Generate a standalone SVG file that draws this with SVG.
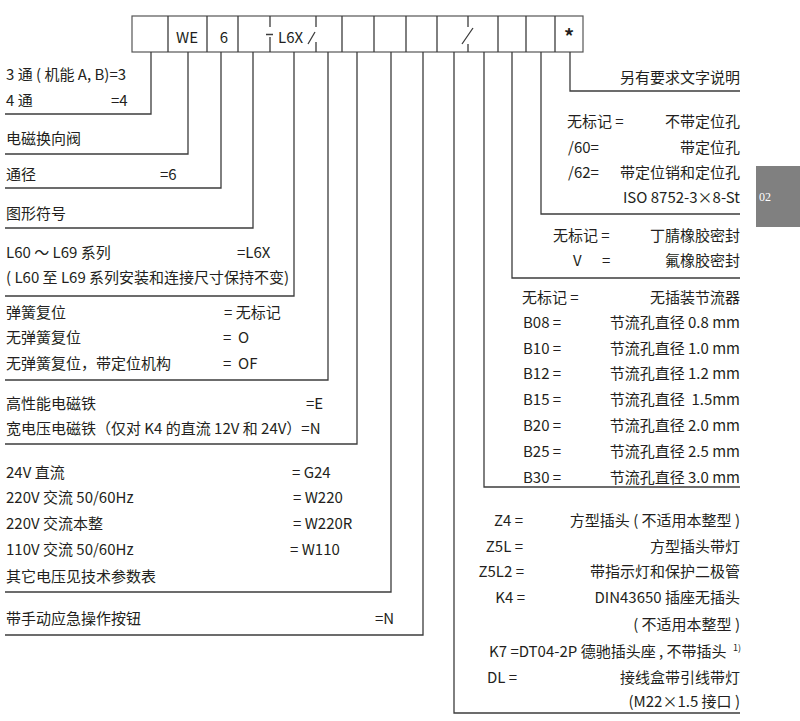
<svg xmlns="http://www.w3.org/2000/svg" width="800" height="721" viewBox="0 0 800 721">
<style>
text{font-family:"Noto Sans CJK SC","Noto Sans",sans-serif;font-size:15px;fill:#231f20}
.e{text-anchor:end}
.ln{stroke:#3c3c3c;stroke-width:1.3;fill:none}
.bx{stroke:#555;stroke-width:1.2;fill:#fff}
.tab{font-family:"Liberation Serif",serif;font-size:12px;fill:#fff}
</style>
<rect width="800" height="721" fill="#fff"/>
<g id="header">
<rect class="bx" x="132" y="16" width="451" height="36"/>
<path class="ln" d="M168 16V52M207 16V52M238 16V52M342 16V52M374 16V52M406 16V52M437 16V52M498 16V52M526 16V52M555 16V52"/>
<path class="ln" d="M270 16V27M266 34.5H273M270 37V52M316 16V27M316 42V52M308 44L315 32M468 16V27M468 44V52M462 44L473 28"/>
<text x="187" y="43" text-anchor="middle">WE</text>
<text x="224" y="43" text-anchor="middle">6</text>
<text x="278" y="43">L6X</text>
<text x="569" y="44" text-anchor="middle" style="font-size:20px;font-weight:bold">*</text>
</g>
<g id="connectors">
<path class="ln" d="M151 52V114H5M188 52V154H5M221 52V188H5M253 52V228H5M294 52V296H5M328 52V380H5M357 52V444H5M391 52V592H5M423 52V635H5"/>
<path class="ln" d="M454 52V713H740M484 52V487H740M512 52V278H740M541 52V214H740M570 52V91H740"/>
</g>
<g id="n-ways">
<text x="6" y="80">3 通 ( 机能 A, B)=3</text>
<text x="6" y="106">4 通</text><text x="111" y="106">=4</text>
</g>
<g id="n-valve"><text x="6" y="144">电磁换向阀</text></g>
<g id="n-size"><text x="6" y="180">通径</text><text x="160" y="180">=6</text></g>
<g id="n-symbol"><text x="6" y="219">图形符号</text></g>
<g id="n-series">
<text x="6" y="258">L60 ～ L69 系列</text><text x="237" y="258">=L6X</text>
<text x="6" y="283">( L60 至 L69 系列安装和连接尺寸保持不变)</text>
</g>
<g id="n-spring">
<text x="6" y="318">弹簧复位</text><text x="224" y="318">= 无标记</text>
<text x="6" y="343">无弹簧复位</text><text x="223" y="343" xml:space="preserve">=  O</text>
<text x="6" y="369">无弹簧复位，带定位机构</text><text x="223" y="369" xml:space="preserve">=  OF</text>
</g>
<g id="n-magnet">
<text x="6" y="409">高性能电磁铁</text><text x="306" y="409">=E</text>
<text x="6" y="434">宽电压电磁铁（仅对 K4 的直流 12V 和 24V）=N</text>
</g>
<g id="n-voltage">
<text x="6" y="478">24V 直流</text><text x="292" y="478">= G24</text>
<text x="6" y="503">220V 交流 50/60Hz</text><text x="293" y="503">= W220</text>
<text x="6" y="529">220V 交流本整</text><text x="293" y="529">= W220R</text>
<text x="6" y="555">110V 交流 50/60Hz</text><text x="290" y="555">= W110</text>
<text x="6" y="582">其它电压见技术参数表</text>
</g>
<g id="n-manual"><text x="6" y="624">带手动应急操作按钮</text><text x="375" y="624">=N</text></g>
<g id="n-connector">
<text class="e" x="523" y="526">Z4 =</text><text class="e" x="740" y="526">方型插头 ( 不适用本整型 )</text>
<text class="e" x="523" y="552">Z5L =</text><text class="e" x="740" y="552">方型插头带灯</text>
<text class="e" x="524" y="577">Z5L2 =</text><text class="e" x="740" y="577">带指示灯和保护二极管</text>
<text class="e" x="525" y="603">K4 =</text><text class="e" x="740" y="603">DIN43650 插座无插头</text>
<text class="e" x="740" y="630">( 不适用本整型 )</text>
<text x="489" y="657">K7 =DT04-2P 德驰插头座 , 不带插头</text><text x="733" y="651" style="font-size:9px">1)</text>
<text x="487" y="683">DL =</text><text class="e" x="740" y="683">接线盒带引线带灯</text>
<text class="e" x="740" y="707">(M22×1.5 接口 )</text>
</g>
<g id="n-throttle">
<text x="522" y="303">无标记 =</text><text class="e" x="740" y="303">无插装节流器</text>
<text x="523" y="328">B08 =</text><text class="e" x="740" y="328">节流孔直径 0.8 mm</text>
<text x="523" y="354">B10 =</text><text class="e" x="740" y="354">节流孔直径 1.0 mm</text>
<text x="523" y="379">B12 =</text><text class="e" x="740" y="379">节流孔直径 1.2 mm</text>
<text x="523" y="405">B15 =</text><text class="e" x="740" y="405" xml:space="preserve">节流孔直径  1.5mm</text>
<text x="523" y="431">B20 =</text><text class="e" x="740" y="431">节流孔直径 2.0 mm</text>
<text x="523" y="457">B25 =</text><text class="e" x="740" y="457">节流孔直径 2.5 mm</text>
<text x="523" y="483">B30 =</text><text class="e" x="740" y="483">节流孔直径 3.0 mm</text>
</g>
<g id="n-seal">
<text x="553" y="241">无标记 =</text><text class="e" x="740" y="241">丁腈橡胶密封</text>
<text x="573" y="266">V</text><text x="602" y="266">=</text><text class="e" x="740" y="266">氟橡胶密封</text>
</g>
<g id="n-pin">
<text x="567" y="127">无标记 =</text><text class="e" x="740" y="127">不带定位孔</text>
<text x="568" y="153">/60=</text><text class="e" x="740" y="153">带定位孔</text>
<text x="568" y="178">/62=</text><text class="e" x="740" y="178">带定位销和定位孔</text>
<text class="e" x="740" y="203">ISO 8752-3×8-St</text>
</g>
<g id="n-other"><text class="e" x="740" y="83">另有要求文字说明</text></g>
<g id="tab">
<rect x="756" y="166" width="44" height="61" fill="#808080"/>
<text class="tab" x="759" y="201">02</text>
</g>
</svg>
